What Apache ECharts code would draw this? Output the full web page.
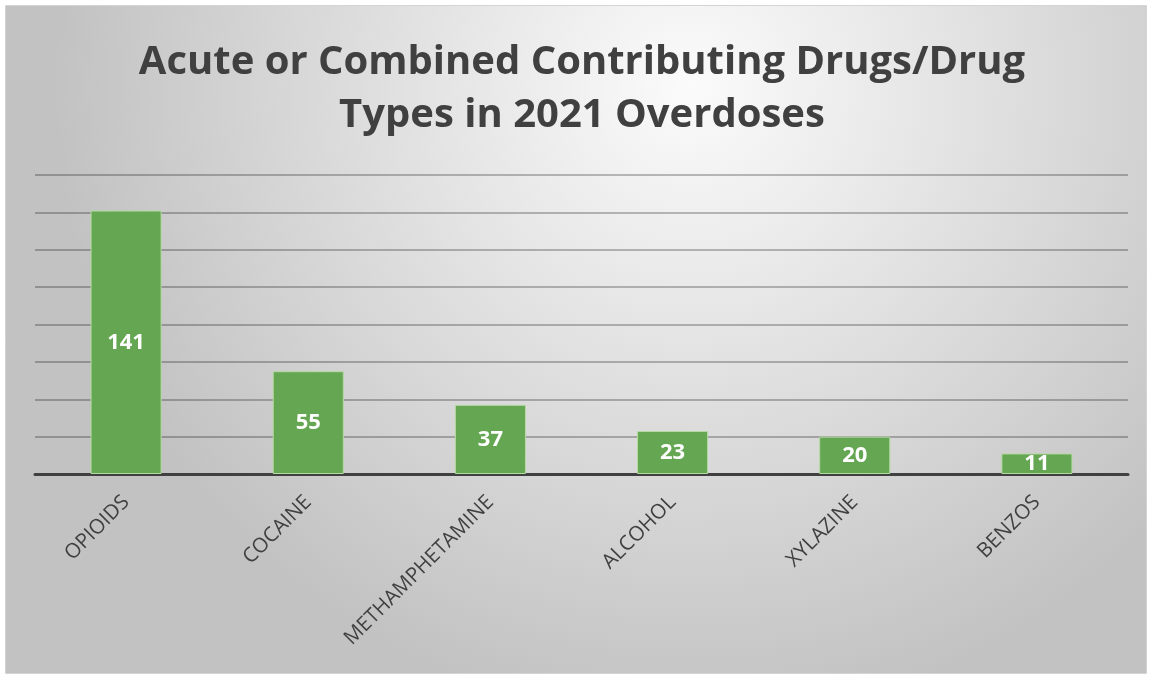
<!DOCTYPE html>
<html><head><meta charset="utf-8">
<script src="https://cdn.jsdelivr.net/npm/echarts@6/dist/echarts.min.js"></script>
<style>html,body{margin:0;padding:0;background:#fff;}#c{width:1149px;height:677px;}</style>
</head><body><div id="c"></div>
<script>
const titleText = 'Acute or Combined Contributing Drugs/Drug\nTypes in 2021 Overdoses';
const categories = ['OPIOIDS','COCAINE','METHAMPHETAMINE','ALCOHOL','XYLAZINE','BENZOS'];
const values = [141,55,37,23,20,11];
const yMin = 0, yMax = 160, yInterval = 20;

const chart = echarts.init(document.getElementById('c'), null, {renderer:'canvas'});
chart.setOption({
  animation:false,
  backgroundColor:'#ffffff',
  graphic:[{
    type:'rect', left:5, top:5, z:-10, silent:true,
    shape:{width:1141, height:668},
    style:{
      fill:{type:'radial', x:0.6, y:0.12, r:0.95, colorStops:[{offset:0,color:'#fbfbfb'},{offset:1,color:'#c2c2c2'}]},
      stroke:'#d4d4d4', lineWidth:1
    }
  }],
  title:{
    text:titleText, left:577, textAlign:'center', top:31,
    textStyle:{fontFamily:'Open Sans', fontWeight:'bold', fontSize:40, color:'#404040', lineHeight:53}
  },
  grid:{left:35, right:21, top:175, bottom:203, containLabel:false},
  xAxis:{
    type:'category', data:categories,
    axisLine:{lineStyle:{color:'#404040', width:3}},
    axisTick:{show:false},
    axisLabel:{rotate:45, margin:25, interval:0, fontFamily:'Open Sans', fontSize:20.5, color:'#404040'}
  },
  yAxis:{
    type:'value', min:yMin, max:yMax, interval:yInterval,
    axisLabel:{show:false}, axisLine:{show:false}, axisTick:{show:false},
    splitLine:{lineStyle:{color:'rgba(0,0,0,0.25)', width:2}}
  },
  series:[{
    type:'bar', data:values, barWidth:'39%',
    itemStyle:{color:'#64a651', borderColor:'#b5d9a3', borderWidth:1},
    label:{show:true, position:'inside', fontFamily:'Open Sans', fontWeight:'bold', fontSize:22, color:'#ffffff'}
  }]
});
</script></body></html>
